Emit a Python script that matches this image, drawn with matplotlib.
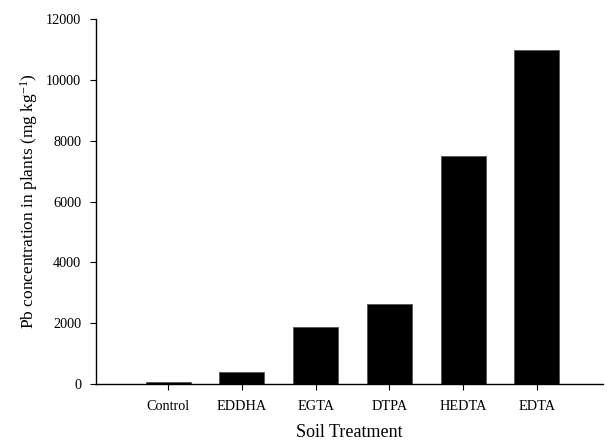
import matplotlib
matplotlib.use("Agg")
import matplotlib.pyplot as plt

treatments = ["Control", "EDDHA", "EGTA", "DTPA", "HEDTA", "EDTA"]
pb_conc = [80, 400, 1880, 2640, 7500, 11000]
y_ticks = [0, 2000, 4000, 6000, 8000, 10000, 12000]

plt.rcParams['font.family'] = ['Liberation Serif', 'DejaVu Serif']
plt.rcParams['mathtext.fontset'] = 'custom'
plt.rcParams['mathtext.rm'] = 'Liberation Serif'
plt.rcParams['mathtext.it'] = 'Liberation Serif:italic'

fig = plt.figure(figsize=(6.1, 4.44), dpi=100)
ax = fig.add_axes([0.157, 0.135, 0.832, 0.822])

pos = list(range(1, len(treatments) + 1))
ax.bar(pos, pb_conc, width=0.61, color='black', edgecolor='#555555', linewidth=0.6)

ax.set_xlim(0.02, 6.9)
ax.set_ylim(0, 12000)
ax.set_xticks(pos)
ax.set_xticklabels(treatments)
ax.set_yticks(y_ticks)

ax.spines['top'].set_visible(False)
ax.spines['right'].set_visible(False)
ax.spines['left'].set_linewidth(1.0)
ax.spines['bottom'].set_linewidth(1.0)
ax.tick_params(axis='both', direction='out', length=4.5, width=0.8, labelsize=10.3)
ax.tick_params(axis='x', pad=7)
ax.tick_params(axis='y', pad=6)

ax.set_xlabel('Soil Treatment', fontsize=13, labelpad=8)
ax.set_ylabel('Pb concentration in plants (mg kg$^{-1}$)', fontsize=12.5, labelpad=4)

fig.savefig('out.png', dpi=100)
